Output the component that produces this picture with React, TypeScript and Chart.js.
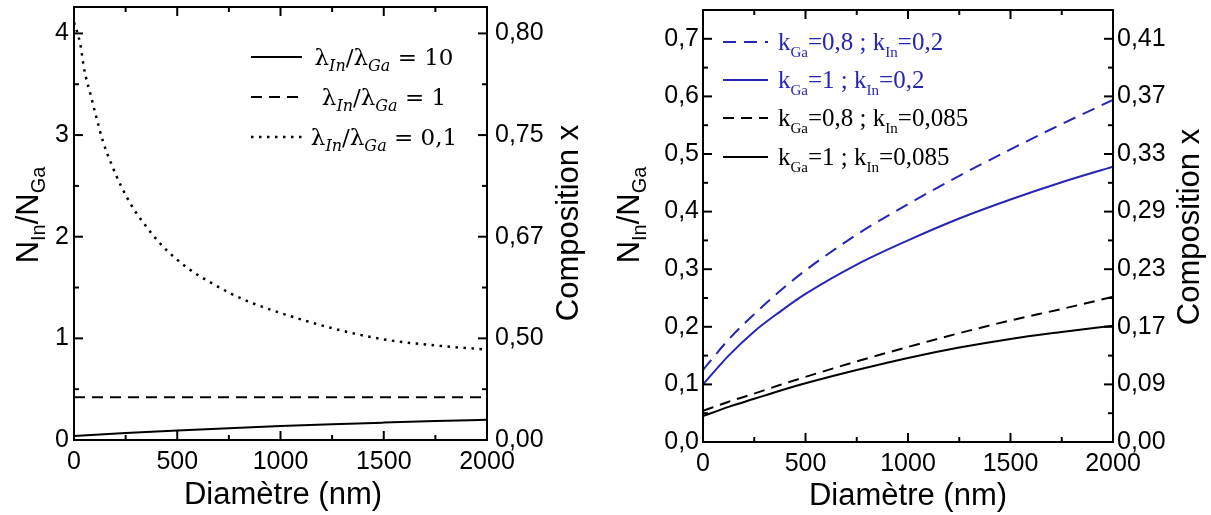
import React, { useEffect, useRef } from 'react';
import { Chart, registerables } from 'chart.js';

Chart.register(...registerables);

// ---------- Left panel data ----------
const leftXTicks = [0, 500, 1000, 1500, 2000];
const leftXMinor = [250, 750, 1250, 1750];
const leftYTicks = [0, 1, 2, 3, 4];
const leftYLabels = ['0', '1', '2', '3', '4'];
const leftYMinor = [0.5, 1.5, 2.5, 3.5];
const leftCompLabels = ['0,00', '0,50', '0,67', '0,75', '0,80'];
const leftXLabels = ['0', '500', '1000', '1500', '2000'];

const diamR10 = [0, 250, 500, 750, 1000, 1250, 1500, 1750, 2000];
const ratio10 = [0.04, 0.068, 0.093, 0.116, 0.137, 0.155, 0.171, 0.186, 0.198];
const diamR1 = [0, 2000];
const ratio1 = [0.42, 0.42];
const diamR01 = [0, 30, 50, 80, 110, 140, 180, 230, 290, 350, 410, 490, 580, 670, 760, 860, 1000, 1250, 1500, 1750, 2000];
const ratio01 = [4.11, 3.9, 3.64, 3.4, 3.16, 2.94, 2.72, 2.49, 2.27, 2.1, 1.95, 1.79, 1.65, 1.54, 1.44, 1.35, 1.25, 1.1, 0.99, 0.93, 0.89];
const leftLegendValues = ['10', '1', '0,1'];

// ---------- Right panel data ----------
const rightXTicks = [0, 500, 1000, 1500, 2000];
const rightXMinor = [250, 750, 1250, 1750];
const rightXLabels = ['0', '500', '1000', '1500', '2000'];
const rightYTicks = [0, 0.1, 0.2, 0.3, 0.4, 0.5, 0.6, 0.7];
const rightYLabels = ['0,0', '0,1', '0,2', '0,3', '0,4', '0,5', '0,6', '0,7'];
const rightYMinor = [0.05, 0.15, 0.25, 0.35, 0.45, 0.55, 0.65];
const rightCompLabels = ['0,00', '0,09', '0,17', '0,23', '0,29', '0,33', '0,37', '0,41'];

const diamRight = [0, 125, 250, 375, 500, 750, 1000, 1250, 1500, 1750, 2000];
const kGa08kIn02 = [0.125, 0.178, 0.222, 0.262, 0.298, 0.36, 0.413, 0.462, 0.508, 0.552, 0.594];
const kGa1kIn02 = [0.1, 0.15, 0.192, 0.226, 0.257, 0.308, 0.35, 0.388, 0.421, 0.451, 0.478];
const kGa08kIn0085 = [0.054, 0.07, 0.084, 0.099, 0.113, 0.14, 0.165, 0.189, 0.211, 0.231, 0.252];
const kGa1kIn0085 = [0.045, 0.061, 0.075, 0.089, 0.102, 0.125, 0.146, 0.164, 0.179, 0.191, 0.202];
const rightLegendK = [
  ['0,8', '0,2'],
  ['1', '0,2'],
  ['0,8', '0,085'],
  ['1', '0,085'],
];

const BLUE = '#2626b4';
const SANS = '"Liberation Sans", Arial, sans-serif';
const SERIF = '"Liberation Serif", "Times New Roman", serif';
const MATH = '"DejaVu Serif", serif';

type Part = { t: string; sub?: boolean; it?: boolean };
type RichOpts = { size: number; sub: number; family: string; color: string; align: 'left' | 'center' | 'right'; shift: number };

function drawRich(ctx: CanvasRenderingContext2D, parts: Part[], x: number, y: number, o: RichOpts) {
  const fontFor = (p: Part) => `${p.it ? 'italic ' : ''}${p.sub ? o.sub : o.size}px ${o.family}`;
  const widths = parts.map((p) => {
    ctx.font = fontFor(p);
    return ctx.measureText(p.t).width;
  });
  const total = widths.reduce((a, b) => a + b, 0);
  let cx = o.align === 'center' ? x - total / 2 : o.align === 'right' ? x - total : x;
  ctx.fillStyle = o.color;
  ctx.textAlign = 'left';
  ctx.textBaseline = 'alphabetic';
  parts.forEach((p, i) => {
    ctx.font = fontFor(p);
    ctx.fillText(p.t, cx, y + (p.sub ? o.shift : 0));
    cx += widths[i];
  });
}

function drawRotated(ctx: CanvasRenderingContext2D, parts: Part[], x: number, y: number, o: RichOpts) {
  ctx.save();
  ctx.translate(x, y);
  ctx.rotate(-Math.PI / 2);
  drawRich(ctx, parts, 0, 0, o);
  ctx.restore();
}

type LegendItem = { color: string; dash: number[]; width: number; x1: number; x2: number; y: number; textX: number; align: 'left' | 'center'; parts: Part[]; size: number; sub: number; family: string; shift: number };

type Decor = {
  majorX: number[];
  minorX: number[];
  majorY: number[];
  minorY: number[];
  legend: LegendItem[];
  yTitleX: number;
  yTitleY: number;
  compX: number;
  compY: number;
  xTitleX: number;
  xTitleY: number;
};

function makeDecor(d: Decor) {
  return {
    id: 'decor',
    afterDraw(chart: any) {
      const ctx: CanvasRenderingContext2D = chart.ctx;
      const { left, right, top, bottom } = chart.chartArea;
      const xs = chart.scales.x;
      const ys = chart.scales.y;
      ctx.save();
      ctx.strokeStyle = '#000';
      ctx.lineWidth = 2;
      ctx.setLineDash([]);
      ctx.strokeRect(left, top, right - left, bottom - top);
      const seg = (a: number, b: number, c: number, e: number) => {
        ctx.beginPath();
        ctx.moveTo(a, b);
        ctx.lineTo(c, e);
        ctx.stroke();
      };
      const xt = (vals: number[], len: number) => vals.forEach((v) => {
        const px = xs.getPixelForValue(v);
        seg(px, bottom, px, bottom - len);
        seg(px, top, px, top + len);
      });
      const yt = (vals: number[], len: number) => vals.forEach((v) => {
        const py = ys.getPixelForValue(v);
        seg(left, py, left + len, py);
        seg(right, py, right - len, py);
      });
      xt(d.majorX, 9);
      xt(d.minorX, 5);
      yt(d.majorY, 9);
      yt(d.minorY, 5);

      d.legend.forEach((it) => {
        ctx.strokeStyle = it.color;
        ctx.lineWidth = it.width;
        ctx.lineCap = 'butt';
        ctx.setLineDash(it.dash);
        seg(it.x1, it.y, it.x2, it.y);
        ctx.setLineDash([]);
        drawRich(ctx, it.parts, it.textX, it.y + 8, { size: it.size, sub: it.sub, family: it.family, color: it.color, align: it.align, shift: it.shift });
      });

      drawRotated(ctx, [{ t: 'N' }, { t: 'In', sub: true }, { t: '/N' }, { t: 'Ga', sub: true }], d.yTitleX, d.yTitleY, { size: 31, sub: 20, family: SANS, color: '#000', align: 'center', shift: 7 });
      drawRotated(ctx, [{ t: 'Composition x' }], d.compX, d.compY, { size: 31, sub: 20, family: SANS, color: '#000', align: 'center', shift: 0 });
      drawRich(ctx, [{ t: 'Diamètre (nm)' }], d.xTitleX, d.xTitleY, { size: 31, sub: 20, family: SANS, color: '#000', align: 'center', shift: 0 });
      ctx.restore();
    },
  };
}

function pts(xs: number[], ys: number[]) {
  return xs.map((x, i) => ({ x, y: ys[i] }));
}

function buildOptions(p: {
  xTicks: number[]; xLabels: string[]; yTicks: number[]; yLabels: string[]; compLabels: string[];
  yMax: number; leftW: number; rightW: number; bottomH: number; yPad: number; y2Pad: number;
}) {
  const tickFont = { family: SANS, size: 25 };
  return {
    responsive: false,
    animation: false as const,
    devicePixelRatio: 1,
    layout: { padding: { top: 0, left: 0, right: 0, bottom: 0 } },
    plugins: { legend: { display: false }, tooltip: { enabled: false } },
    elements: { point: { radius: 0 }, line: { cubicInterpolationMode: 'monotone' as const } },
    scales: {
      x: {
        type: 'linear' as const,
        min: 0,
        max: 2000,
        grid: { display: false, drawTicks: false },
        border: { display: false },
        afterBuildTicks: (s: any) => { s.ticks = p.xTicks.map((v) => ({ value: v })); },
        afterFit: (s: any) => { s.height = p.bottomH; s.paddingLeft = 0; s.paddingRight = 0; },
        ticks: {
          font: tickFont, color: '#000', padding: 7, maxRotation: 0, autoSkip: false,
          callback: (_v: any, i: number) => p.xLabels[i],
        },
      },
      y: {
        type: 'linear' as const,
        position: 'left' as const,
        min: 0,
        max: p.yMax,
        grid: { display: false, drawTicks: false },
        border: { display: false },
        afterBuildTicks: (s: any) => { s.ticks = p.yTicks.map((v) => ({ value: v })); },
        afterFit: (s: any) => { s.width = p.leftW; s.paddingTop = 0; s.paddingBottom = 0; },
        ticks: { font: tickFont, color: '#000', padding: p.yPad, autoSkip: false, callback: (_v: any, i: number) => p.yLabels[i] },
      },
      y2: {
        type: 'linear' as const,
        position: 'right' as const,
        min: 0,
        max: p.yMax,
        grid: { display: false, drawTicks: false },
        border: { display: false },
        afterBuildTicks: (s: any) => { s.ticks = p.yTicks.map((v) => ({ value: v })); },
        afterFit: (s: any) => { s.width = p.rightW; s.paddingTop = 0; s.paddingBottom = 0; },
        ticks: { font: tickFont, color: '#000', padding: p.y2Pad, autoSkip: false, callback: (_v: any, i: number) => p.compLabels[i] },
      },
    },
  };
}

function LeftChart() {
  const ref = useRef<HTMLCanvasElement | null>(null);
  useEffect(() => {
    if (!ref.current) return;
    const lambdaParts = (v: string): Part[] => [
      { t: 'λ' }, { t: 'In', sub: true, it: true }, { t: '/λ' }, { t: 'Ga', sub: true, it: true }, { t: ' = ' + v },
    ];
    const legend: LegendItem[] = [
      { color: '#000', dash: [], width: 2, x1: 251, x2: 302, y: 57, textX: 384, align: 'center', parts: lambdaParts(leftLegendValues[0]), size: 23, sub: 16, family: MATH, shift: 6 },
      { color: '#000', dash: [11, 7], width: 2, x1: 251, x2: 302, y: 97, textX: 384, align: 'center', parts: lambdaParts(leftLegendValues[1]), size: 23, sub: 16, family: MATH, shift: 6 },
      { color: '#000', dash: [2.5, 5.5], width: 2.5, x1: 251, x2: 306, y: 137, textX: 384, align: 'center', parts: lambdaParts(leftLegendValues[2]), size: 23, sub: 16, family: MATH, shift: 6 },
    ];
    const opts: any = buildOptions({
      xTicks: leftXTicks, xLabels: leftXLabels, yTicks: leftYTicks, yLabels: leftYLabels, compLabels: leftCompLabels,
      yMax: 4.26, leftW: 74, rightW: 113, bottomH: 75, yPad: 5, y2Pad: 8,
    });
    opts.layout.padding.top = 7;
    const chart = new Chart(ref.current, {
      type: 'line',
      data: {
        datasets: [
          { data: pts(diamR10, ratio10), borderColor: '#000', borderWidth: 2, yAxisID: 'y' },
          { data: pts(diamR1, ratio1), borderColor: '#000', borderWidth: 2, borderDash: [11, 7], yAxisID: 'y' },
          { data: pts(diamR01, ratio01), borderColor: '#000', borderWidth: 2.5, borderDash: [2.5, 5.5], yAxisID: 'y' },
        ],
      },
      options: opts,
      plugins: [makeDecor({
        majorX: leftXTicks, minorX: leftXMinor, majorY: leftYTicks, minorY: leftYMinor, legend,
        yTitleX: 38, yTitleY: 215, compX: 578, compY: 223, xTitleX: 283, xTitleY: 504,
      })],
    } as any);
    return () => chart.destroy();
  }, []);
  return <canvas ref={ref} width={600} height={515} style={{ position: 'absolute', left: 0, top: 0, width: 600, height: 515 }} />;
}

function RightChart() {
  const ref = useRef<HTMLCanvasElement | null>(null);
  useEffect(() => {
    if (!ref.current) return;
    const kParts = (a: string, b: string): Part[] => [
      { t: 'k' }, { t: 'Ga', sub: true }, { t: '=' + a + ' ; k' }, { t: 'In', sub: true }, { t: '=' + b },
    ];
    const colors = [BLUE, BLUE, '#000', '#000'];
    const dashes = [[13, 8], [], [11, 7], []];
    const ys = [42, 80, 118, 157];
    const legend: LegendItem[] = rightLegendK.map((k, i) => ({
      color: colors[i], dash: dashes[i], width: 2, x1: 123, x2: 168, y: ys[i], textX: 178, align: 'left' as const,
      parts: kParts(k[0], k[1]), size: 25, sub: 15, family: SERIF, shift: 7,
    }));
    const opts: any = buildOptions({
      xTicks: rightXTicks, xLabels: rightXLabels, yTicks: rightYTicks, yLabels: rightYLabels, compLabels: rightCompLabels,
      yMax: 0.75, leftW: 103, rightW: 98, bottomH: 73, yPad: 4, y2Pad: 4,
    });
    opts.layout.padding.top = 10;
    const chart = new Chart(ref.current, {
      type: 'line',
      data: {
        datasets: [
          { data: pts(diamRight, kGa08kIn02), borderColor: BLUE, borderWidth: 2, borderDash: [13, 8], yAxisID: 'y' },
          { data: pts(diamRight, kGa1kIn02), borderColor: BLUE, borderWidth: 2, yAxisID: 'y' },
          { data: pts(diamRight, kGa08kIn0085), borderColor: '#000', borderWidth: 2, borderDash: [11, 7], yAxisID: 'y' },
          { data: pts(diamRight, kGa1kIn0085), borderColor: '#000', borderWidth: 2, yAxisID: 'y' },
        ],
      },
      options: opts,
      plugins: [makeDecor({
        majorX: rightXTicks, minorX: rightXMinor, majorY: rightYTicks, minorY: rightYMinor, legend,
        yTitleX: 39, yTitleY: 215, compX: 599, compY: 227, xTitleX: 308, xTitleY: 505,
      })],
    } as any);
    return () => chart.destroy();
  }, []);
  return <canvas ref={ref} width={611} height={515} style={{ position: 'absolute', left: 600, top: 0, width: 611, height: 515 }} />;
}

export default function App() {
  return (
    <div style={{ position: 'fixed', left: 0, top: 0, width: 1211, height: 515, background: '#fff', overflow: 'hidden' }}>
      <LeftChart />
      <RightChart />
    </div>
  );
}
